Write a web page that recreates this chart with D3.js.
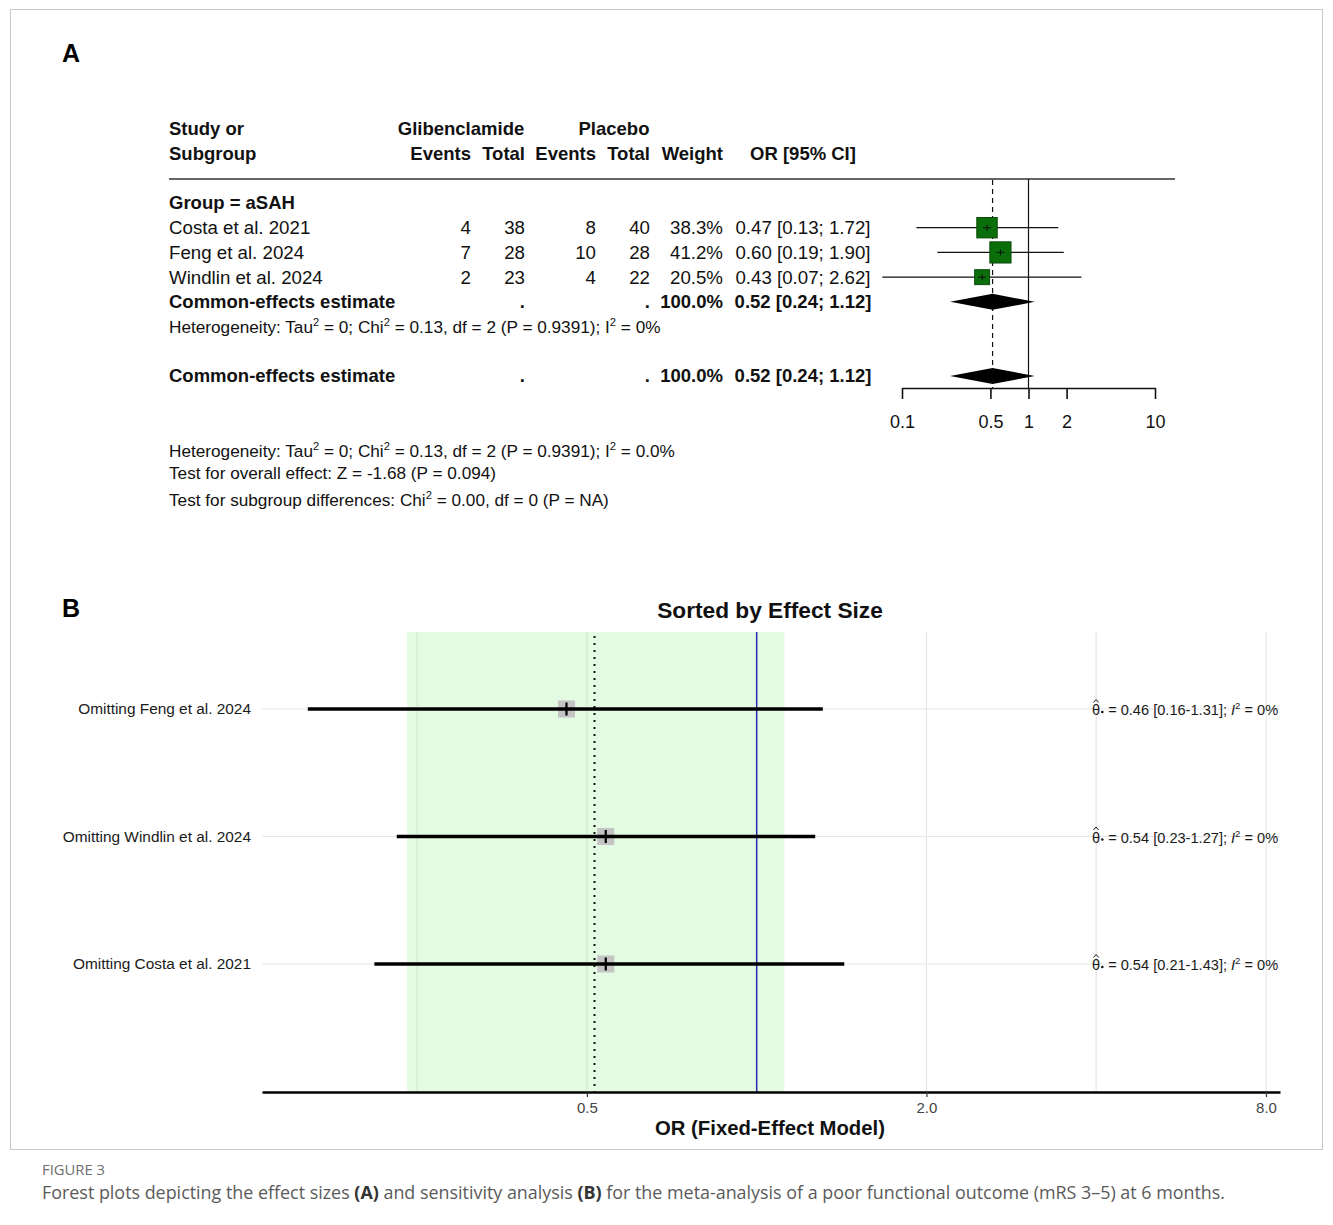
<!DOCTYPE html>
<html>
<head>
<meta charset="utf-8">
<script src="https://cdn.jsdelivr.net/npm/d3@7"></script>
<style>
    body { margin: 0; background: #fff; }
    svg { display: block; font-family: "Liberation Sans", Arial, sans-serif; }
</style>
</head>
<body>
<div class="graph"></div>
<script>
/* Panel A data */
const studies = ["Costa et al. 2021", "Feng et al. 2024", "Windlin et al. 2024"];
const glib_events = [4, 7, 2];
const glib_total = [38, 28, 23];
const plac_events = [8, 10, 4];
const plac_total = [40, 28, 22];
const weights = [38.3, 41.2, 20.5];
const or_est = [0.47, 0.60, 0.43];
const ci_low = [0.13, 0.19, 0.07];
const ci_high = [1.72, 1.90, 2.62];
const pooled_or = 0.52;
const pooled_low = 0.24;
const pooled_high = 1.12;
const pooled_weight = 100.0;
const ticks_a = [0.1, 0.5, 1, 2, 10];

/* Panel B data */
const omitted = ["Omitting Feng et al. 2024", "Omitting Windlin et al. 2024", "Omitting Costa et al. 2021"];
const omit_est = [0.46, 0.54, 0.54];
const omit_low = [0.16, 0.23, 0.21];
const omit_high = [1.31, 1.27, 1.43];
const omit_i2 = [0, 0, 0];
const ticks_b = [0.5, 2, 8];
const grid_b = [0.25, 0.5, 1, 2, 4, 8];

const svg = d3.select('.graph')
    .append('svg')
        .attr('width', 1333)
        .attr('height', 1225);

svg.append('rect')
    .attr('x', 10.5).attr('y', 9.5)
    .attr('width', 1312).attr('height', 1140)
    .attr('fill', 'none')
    .attr('stroke', '#c8c8c8');

// text with superscript pieces: segs = [[text, isSup, fontStyle]]
function richText(parent, x, y, segs, size, weight) {
    let t = parent.append('text')
        .attr('x', x).attr('y', y)
        .attr('font-size', size)
        .attr('font-weight', weight || 'normal')
        .attr('fill', '#111');
    let up = false;
    segs.forEach(s => {
        let sp = t.append('tspan').text(s[0]);
        if (s[1] && !up) { sp.attr('dy', -size * 0.4).attr('font-size', size * 0.65); up = true; }
        else if (s[1]) { sp.attr('font-size', size * 0.65); }
        else if (up) { sp.attr('dy', size * 0.4); up = false; }
        if (s[2]) sp.attr('font-style', s[2]);
    });
    return t;
}

/* ---------- Panel A ---------- */
const a = svg.append('g');
const font_a = 18.7;
const font_note = 17.2;

a.append('text').attr('x', 62).attr('y', 62)
    .attr('font-family', '"Liberation Sans Narrow", "Liberation Sans", Arial')
    .attr('font-weight', 'bold').attr('font-size', 25).text('A');

const xA = d3.scaleLog().domain([0.1, 10]).range([902, 1155]);
const rowA = d3.scaleLinear().domain([0, 7]).range([203, 376]);

// header
const header = [
    ['Study or', 169, 129, 'start'],
    ['Subgroup', 169, 154, 'start'],
    ['Glibenclamide', 461, 129, 'middle'],
    ['Placebo', 614, 129, 'middle'],
    ['Events', 471, 154, 'end'],
    ['Total', 525, 154, 'end'],
    ['Events', 596, 154, 'end'],
    ['Total', 650, 154, 'end'],
    ['Weight', 723, 154, 'end'],
    ['OR [95% CI]', 803, 154, 'middle']
];
a.selectAll('.hdr').data(header).enter().append('text')
    .attr('class', 'hdr')
    .attr('x', d => d[1]).attr('y', d => d[2])
    .attr('dy', '0.35em')
    .attr('text-anchor', d => d[3])
    .attr('font-size', 18.5).attr('font-weight', 'bold')
    .attr('fill', '#111')
    .text(d => d[0]);

a.append('line')
    .attr('x1', 169).attr('x2', 1175).attr('y1', 179).attr('y2', 179)
    .attr('stroke', '#333').attr('stroke-width', 1.5);

a.append('text').attr('x', 169).attr('y', rowA(0)).attr('dy', '0.35em')
    .attr('font-size', 18.5).attr('font-weight', 'bold').attr('fill', '#111')
    .text('Group = aSAH');

const cols = [
    [glib_events, 471, d => d],
    [glib_total, 525, d => d],
    [plac_events, 596, d => d],
    [plac_total, 650, d => d],
    [weights, 723, d => d.toFixed(1) + '%']
];

studies.forEach((s, i) => {
    let y = rowA(i + 1);
    a.append('text').attr('x', 169).attr('y', y).attr('dy', '0.35em')
        .attr('font-size', font_a).attr('fill', '#111').text(s);
    cols.forEach(c => {
        a.append('text').attr('x', c[1]).attr('y', y).attr('dy', '0.35em')
            .attr('text-anchor', 'end')
            .attr('font-size', font_a).attr('fill', '#111').text(c[2](c[0][i]));
    });
    a.append('text').attr('x', 803).attr('y', y).attr('dy', '0.35em')
        .attr('text-anchor', 'middle')
        .attr('font-size', font_a).attr('fill', '#111')
        .text(or_est[i].toFixed(2) + ' [' + ci_low[i].toFixed(2) + '; ' + ci_high[i].toFixed(2) + ']');
});

// pooled rows (subgroup and overall)
[rowA(4), rowA(7)].forEach(y => {
    a.append('text').attr('x', 169).attr('y', y).attr('dy', '0.35em')
        .attr('font-size', 18.5).attr('font-weight', 'bold').attr('fill', '#111')
        .text('Common-effects estimate');
    [525, 650].forEach(x => {
        a.append('text').attr('x', x).attr('y', y).attr('dy', '0.35em')
            .attr('text-anchor', 'end').attr('font-size', 18.5).attr('font-weight', 'bold')
            .attr('fill', '#111').text('.');
    });
    a.append('text').attr('x', 723).attr('y', y).attr('dy', '0.35em')
        .attr('text-anchor', 'end').attr('font-size', 18.5).attr('font-weight', 'bold')
        .attr('fill', '#111').text(pooled_weight.toFixed(1) + '%');
    a.append('text').attr('x', 803).attr('y', y).attr('dy', '0.35em')
        .attr('text-anchor', 'middle').attr('font-size', 18.5).attr('font-weight', 'bold')
        .attr('fill', '#111')
        .text(pooled_or.toFixed(2) + ' [' + pooled_low.toFixed(2) + '; ' + pooled_high.toFixed(2) + ']');
});

richText(a, 169, rowA(5) + 6, [
    ['Heterogeneity: Tau'], ['2', true], [' = 0; Chi'], ['2', true],
    [' = 0.13, df = 2 (P = 0.9391); I'], ['2', true], [' = 0%']
], font_note);

// reference lines
a.append('line')
    .attr('x1', xA(1)).attr('x2', xA(1)).attr('y1', 179).attr('y2', 388)
    .attr('stroke', '#111').attr('stroke-width', 1.2);
a.append('line')
    .attr('x1', xA(pooled_or)).attr('x2', xA(pooled_or)).attr('y1', 180).attr('y2', 388)
    .attr('stroke', '#111').attr('stroke-width', 1.2).attr('stroke-dasharray', '5,4');

// study CIs and squares
studies.forEach((s, i) => {
    let y = rowA(i + 1);
    let side = 3.3 * Math.sqrt(weights[i]);
    a.append('line')
        .attr('x1', xA(ci_low[i])).attr('x2', xA(ci_high[i]))
        .attr('y1', y).attr('y2', y)
        .attr('stroke', '#111').attr('stroke-width', 1.2);
    a.append('rect')
        .attr('x', xA(or_est[i]) - side / 2).attr('y', y - side / 2)
        .attr('width', side).attr('height', side)
        .attr('fill', '#0a6e0a').attr('stroke', '#0b4a0b').attr('stroke-width', 1);
    a.append('line')
        .attr('x1', xA(or_est[i])).attr('x2', xA(or_est[i]))
        .attr('y1', y - 3).attr('y2', y + 3)
        .attr('stroke', '#111').attr('stroke-width', 1);
    a.append('line')
        .attr('x1', xA(or_est[i]) - 4).attr('x2', xA(or_est[i]) + 4)
        .attr('y1', y).attr('y2', y)
        .attr('stroke', '#111').attr('stroke-width', 1);
});

// diamonds
[rowA(4), rowA(7)].forEach(y => {
    let pts = [[xA(pooled_low), y], [xA(pooled_or), y - 8], [xA(pooled_high), y], [xA(pooled_or), y + 8]];
    a.append('polygon').attr('points', pts.map(p => p.join(',')).join(' '))
        .attr('fill', '#000');
});

const axisA = d3.axisBottom(xA)
    .tickValues(ticks_a)
    .tickFormat(d => d)
    .tickSize(11)
    .tickSizeOuter(0)
    .tickPadding(16);
const gAxisA = a.append('g').attr('transform', 'translate(0,388)').call(axisA);
gAxisA.selectAll('path, line').attr('stroke', '#111').attr('stroke-width', 1.6);
gAxisA.selectAll('text').attr('font-size', 18).attr('fill', '#111')
    .attr('font-family', '"Liberation Sans", Arial');

richText(a, 169, 457, [
    ['Heterogeneity: Tau'], ['2', true], [' = 0; Chi'], ['2', true],
    [' = 0.13, df = 2 (P = 0.9391); I'], ['2', true], [' = 0.0%']
], font_note);
richText(a, 169, 479, [['Test for overall effect: Z = -1.68 (P = 0.094)']], font_note);
richText(a, 169, 506, [
    ['Test for subgroup differences: Chi'], ['2', true], [' = 0.00, df = 0 (P = NA)']
], font_note);

/* ---------- Panel B ---------- */
const b = svg.append('g');
const plot_b = { left: 262, right: 1280, top: 632, bottom: 1092 };

b.append('text').attr('x', 62).attr('y', 617)
    .attr('font-family', '"Liberation Sans Narrow", "Liberation Sans", Arial')
    .attr('font-weight', 'bold').attr('font-size', 25).text('B');

b.append('text').attr('x', 770).attr('y', 618)
    .attr('text-anchor', 'middle')
    .attr('font-size', 22.7).attr('font-weight', 'bold').attr('fill', '#111')
    .text('Sorted by Effect Size');

const xB = d3.scaleLog().base(2).domain([0.1327, 8.471]).range([plot_b.left, plot_b.right]);
const yB = d3.scalePoint().domain(omitted).range([709, 964]);

// grid
b.selectAll('.vgrid').data(grid_b).enter().append('line')
    .attr('class', 'vgrid')
    .attr('x1', d => xB(d)).attr('x2', d => xB(d))
    .attr('y1', plot_b.top).attr('y2', plot_b.bottom)
    .attr('stroke', '#e6e6e6').attr('stroke-width', 1.2);
b.selectAll('.hgrid').data(omitted).enter().append('line')
    .attr('class', 'hgrid')
    .attr('x1', plot_b.left).attr('x2', plot_b.right)
    .attr('y1', d => yB(d)).attr('y2', d => yB(d))
    .attr('stroke', '#e6e6e6').attr('stroke-width', 1.2);

// pooled CI band
b.append('rect')
    .attr('x', xB(pooled_low)).attr('y', plot_b.top)
    .attr('width', xB(pooled_high) - xB(pooled_low))
    .attr('height', plot_b.bottom - plot_b.top)
    .attr('fill', '#90ee90').attr('fill-opacity', 0.25);

b.append('line')
    .attr('x1', xB(pooled_or) - 2).attr('x2', xB(pooled_or) - 2)
    .attr('y1', plot_b.top + 4).attr('y2', plot_b.bottom)
    .attr('stroke', '#111').attr('stroke-width', 2)
    .attr('stroke-dasharray', '2,5');
b.append('line')
    .attr('x1', xB(1)).attr('x2', xB(1))
    .attr('y1', plot_b.top).attr('y2', plot_b.bottom)
    .attr('stroke', '#2a2ab0').attr('stroke-width', 1.5);

// leave-one-out estimates
omitted.forEach((s, i) => {
    let y = yB(s);
    let cx = xB(omit_est[i]);
    b.append('rect')
        .attr('x', cx - 8.5).attr('y', y - 8.5)
        .attr('width', 17).attr('height', 17)
        .attr('fill', '#c4c4c4');
    b.append('line')
        .attr('x1', xB(omit_low[i])).attr('x2', xB(omit_high[i]))
        .attr('y1', y).attr('y2', y)
        .attr('stroke', '#000').attr('stroke-width', 3.5);
    b.append('line')
        .attr('x1', cx).attr('x2', cx)
        .attr('y1', y - 6.5).attr('y2', y + 6.5)
        .attr('stroke', '#000').attr('stroke-width', 2.2);

    b.append('text').attr('x', 251).attr('y', y).attr('dy', '0.35em')
        .attr('text-anchor', 'end').attr('font-size', 15.4).attr('fill', '#1a1a1a')
        .text(s);

    // theta-hat label: hat and subscript dot drawn as marks
    let th = b.append('text').attr('x', 1092).attr('y', y + 6)
        .attr('font-size', 14.6).attr('fill', '#1a1a1a').text('\u03B8');
    let w = th.node().getComputedTextLength();
    b.append('path')
        .attr('d', 'M' + (1092 + w / 2 - 2.6) + ',' + (y - 6.5) + 'L' + (1092 + w / 2) + ',' + (y - 9.5) + 'L' + (1092 + w / 2 + 2.6) + ',' + (y - 6.5))
        .attr('fill', 'none').attr('stroke', '#1a1a1a').attr('stroke-width', 1);
    b.append('circle')
        .attr('cx', 1092 + w + 2.2).attr('cy', y + 3)
        .attr('r', 1.3).attr('fill', '#1a1a1a');
    let lab = richText(b, 1092 + w + 8, y + 6, [
        ['= ' + omit_est[i].toFixed(2) + ' [' + omit_low[i].toFixed(2) + '-' + omit_high[i].toFixed(2) + ']; '],
        ['I', false, 'italic'], ['2', true], [' = ' + omit_i2[i] + '%']
    ], 14.6);
    lab.attr('fill', '#1a1a1a');
});

const axisB = d3.axisBottom(xB)
    .tickValues(ticks_b)
    .tickFormat(d3.format('.1f'))
    .tickSize(5)
    .tickSizeOuter(0)
    .tickPadding(5);
const gAxisB = b.append('g').attr('transform', 'translate(0,' + plot_b.bottom + ')').call(axisB);
gAxisB.select('.domain').attr('stroke', '#000').attr('stroke-width', 2.5);
gAxisB.selectAll('.tick line').attr('stroke', '#333').attr('stroke-width', 1.2);
gAxisB.selectAll('text').attr('font-size', 15).attr('fill', '#444')
    .attr('font-family', '"Liberation Sans Narrow", "Liberation Sans", Arial');

b.append('text').attr('x', 770).attr('y', 1135)
    .attr('text-anchor', 'middle')
    .attr('font-size', 20.3).attr('font-weight', 'bold').attr('fill', '#111')
    .text('OR (Fixed-Effect Model)');

/* ---------- Caption ---------- */
svg.append('text').attr('x', 42).attr('y', 1175)
    .attr('font-family', '"Open Sans", "Noto Sans", sans-serif')
    .attr('font-size', 14.8).attr('fill', '#707070')
    .text('FIGURE 3');

const cap = svg.append('text').attr('x', 42).attr('y', 1199)
    .attr('font-family', '"Open Sans", "Noto Sans", sans-serif')
    .attr('font-size', 17.9).attr('fill', '#5a5a5a');
[
    ['Forest plots depicting the effect sizes ', false],
    ['(A)', true],
    [' and sensitivity analysis ', false],
    ['(B)', true],
    [' for the meta-analysis of a poor functional outcome (mRS 3\u20135) at 6 months.', false]
].forEach(p => {
    cap.append('tspan').text(p[0]).attr('font-weight', p[1] ? 'bold' : 'normal')
        .attr('fill', p[1] ? '#333' : null);
});
</script>
</body>
</html>
